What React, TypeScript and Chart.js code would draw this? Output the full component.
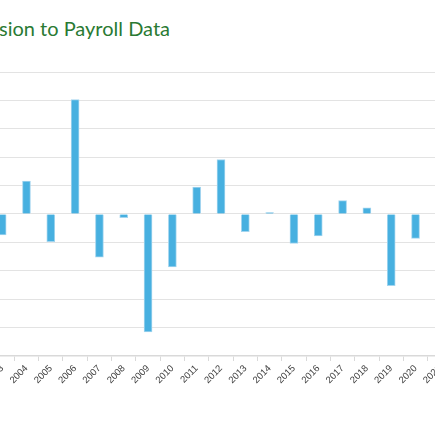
import React, { useEffect, useRef } from 'react';
import { Chart, registerables } from 'chart.js';

Chart.register(...registerables);

// benchmark revisions, thousands of jobs
const years = [
  '2003', '2004', '2005', '2006', '2007', '2008', '2009', '2010', '2011', '2012',
  '2013', '2014', '2015', '2016', '2017', '2018', '2019', '2020', '2021',
];
const revisions = [
  -148, 232, -194, 806, -304, -26, -830, -372, 190, 384,
  -124, 10, -208, -154, 94, 44, -504, -172, null,
];
const yTicks = [-1000, -800, -600, -400, -200, 0, 200, 400, 600, 800, 1000];

const TITLE = 'Benchmark Revision to Payroll Data';

export default function App() {
  const canvasRef = useRef<HTMLCanvasElement | null>(null);

  useEffect(() => {
    if (!canvasRef.current) return;
    const chart = new Chart(canvasRef.current, {
      type: 'bar',
      data: {
        labels: years,
        datasets: [
          {
            label: 'Revision',
            data: revisions,
            backgroundColor: '#47b0e0',
            borderColor: '#a3d5ef',
            borderWidth: 1,
            barThickness: 8,
          },
        ],
      },
      options: {
        animation: false,
        responsive: true,
        maintainAspectRatio: false,
        layout: { padding: { top: 10, left: 0, right: 0, bottom: 0 } },
        plugins: {
          legend: { display: false },
          tooltip: { enabled: false },
        },
        scales: {
          x: {
            afterFit: (scale: any) => {
              // the labels may run off the left edge, as in the original
              scale.paddingLeft = 0;
              scale.paddingRight = 0;
            },
            grid: {
              drawOnChartArea: false,
              color: '#d9d9d9',
              tickLength: 5,
            },
            border: { color: '#d9d9d9', width: 1.5 },
            ticks: {
              autoSkip: false,
              minRotation: 45,
              maxRotation: 45,
              color: '#3c3c3c',
              padding: 2,
              font: { family: 'Liberation Sans', size: 9.5 },
            },
          },
          y: {
            min: yTicks[0],
            max: yTicks[yTicks.length - 1],
            afterFit: (scale: any) => {
              scale.width = 0;
            },
            afterBuildTicks: (scale: any) => {
              scale.ticks = yTicks.map((v) => ({ value: v }));
            },
            grid: { color: '#e3e3e3', drawTicks: false },
            border: { display: false },
            ticks: { display: false },
          },
        },
      },
    });
    return () => chart.destroy();
  }, []);

  return (
    <div
      style={{
        position: 'fixed',
        left: 0,
        top: 0,
        width: 435,
        height: 435,
        overflow: 'hidden',
        background: '#ffffff',
      }}
    >
      <span
        style={{
          position: 'absolute',
          right: 265,
          top: 18,
          whiteSpace: 'nowrap',
          fontFamily: 'Lato, sans-serif',
          fontSize: 20,
          lineHeight: '20px',
          color: '#2a7a33',
        }}
      >
        {TITLE}
      </span>
      <div style={{ position: 'absolute', left: -10, top: 62, width: 462, height: 326 }}>
        <canvas ref={canvasRef}></canvas>
      </div>
    </div>
  );
}
